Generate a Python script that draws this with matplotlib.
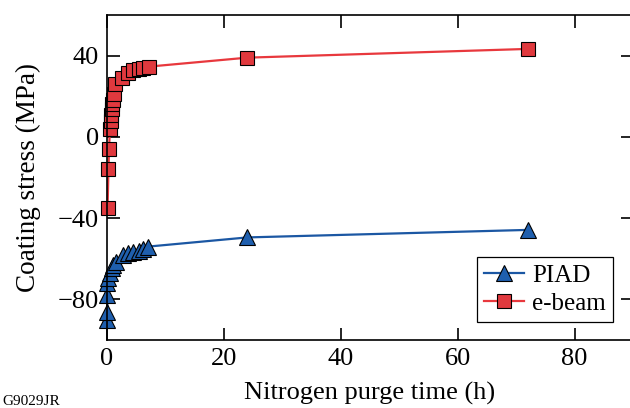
import numpy as np
import matplotlib.pyplot as plt

plt.rcParams['font.family'] = ['Liberation Serif', 'DejaVu Serif']

# e-beam coating stress vs nitrogen purge time
t_ebeam = [0.1, 0.25, 0.35, 0.5, 0.6, 0.7, 0.8, 0.9, 1.0, 1.2, 1.3, 2.5, 3.6, 4.5, 5.4, 6.2, 7.2, 24, 72]
s_ebeam = [-35, -16, -6, 4, 8, 11, 13.5, 16, 18, 21, 26, 29, 31.4, 32.7, 33.5, 34.1, 34.6, 39, 43.3]

# PIAD coating stress vs nitrogen purge time
t_piad = [0.05, 0.05, 0.05, 0.05, 0.2, 0.5, 0.8, 1.1, 1.5, 2.8, 3.6, 4.5, 5.4, 6.2, 7.1, 24, 72]
s_piad = [-90, -86, -78, -72, -69.6, -67, -64.7, -63, -61.4, -58.1, -57.3, -56.8, -56.2, -55.3, -54, -49.5, -45.8]

fig = plt.figure(figsize=(6.3, 4.08), dpi=100)
ax = fig.add_axes([107/630, 1-340/408, 526/630, 325/408])

ax.plot(t_piad, s_piad, color='#1b57a3', lw=1.6, marker='^', ms=11,
        mfc='#1f5fae', mec='black', mew=0.8, label='PIAD', clip_on=False)
ax.plot(t_ebeam, s_ebeam, color='#e8383d', lw=1.6, marker='s', ms=9.5,
        mfc='#e0393e', mec='black', mew=0.8, label='e-beam', clip_on=False)

ax.set_xlim(0, 90)
ax.set_ylim(-100, 60)
ax.set_xticks([0, 20, 40, 60, 80])
ax.set_yticks([-80, -40, 0, 40])
ax.set_yticklabels(['\u221280', '\u221240', '0', '40'])
ax.tick_params(direction='in', length=9, width=1.2, labelsize=19,
               top=True, right=True, pad=6)
for sp in ax.spines.values():
    sp.set_linewidth(1.2)

ax.set_xlabel('Nitrogen purge time (h)', fontsize=19, labelpad=8)
ax.set_ylabel('Coating stress (MPa)', fontsize=19.5, labelpad=12)

leg = ax.legend(loc='lower right', bbox_to_anchor=(0.962, 0.055), fontsize=18,
                frameon=True, fancybox=False, edgecolor='black', framealpha=1,
                handlelength=1.6, handletextpad=0.3, borderpad=0.3,
                labelspacing=0.2, borderaxespad=0)
leg.get_frame().set_linewidth(0.9)

fig.text(0.003, 0.0, 'G9029JR', fontsize=11, ha='left', va='bottom')

fig.savefig('out.png', dpi=100)
